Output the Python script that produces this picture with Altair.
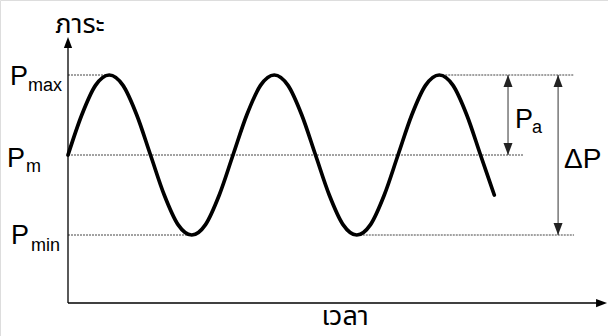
import altair as alt
import pandas as pd

# Load curve: time in 1/12-period steps,
# load relative to P_m in units of the amplitude P_a.
time = list(range(32))
load = [0, 0.5, 0.87, 1, 0.87, 0.5, 0, -0.5, -0.87, -1, -0.87, -0.5,
        0, 0.5, 0.87, 1, 0.87, 0.5, 0, -0.5, -0.87, -1, -0.87, -0.5,
        0, 0.5, 0.87, 1, 0.87, 0.5, 0, -0.5]

# Reference levels
P_max, P_m, P_min = 1, 0, -1

# Dotted level segments (start time, end time, level)
seg_start = [0, 27, 0, 0, 21]
seg_end = [3, 36.8, 33.1, 9, 36.8]
seg_level = [P_max, P_max, P_m, P_min, P_min]

# Axes (drawn as arrows)
x_axis_level = -1.85
y_axis_top = 1.475
x_axis_end = 39.2

# Dimension arrows: P_a and delta P
arrow_t = [32.0, 35.64]
arrow_from = [P_max, P_max]
arrow_to = [P_m, P_min]

# Text labels (text, time, load, size)
lab_text = ["P", "max", "P", "m", "P", "min", "P", "a", "\u0394P"]
lab_t = [-4.22, -2.91, -4.44, -3.06, -4.15, -2.69, 32.51, 33.75, 36.07]
lab_y = [0.875, 0.80, -0.15, -0.2125, -1.1125, -1.2, 0.3375, 0.275, -0.1625]
lab_size = [27, 18, 27, 18, 27, 18, 27, 18, 28]

y_title = "ภาระ"
x_title = "เวลา"

xs = alt.Scale(domain=[-4.945, 39.27], nice=False, zero=False)
ys = alt.Scale(domain=[-2.2625, 1.9375], nice=False, zero=False)

curve = pd.DataFrame({"t": time, "p": load})
segs = pd.DataFrame({"t1": seg_start, "t2": seg_end, "p": seg_level})
arrows = pd.DataFrame({"t": arrow_t, "p1": arrow_from, "p2": arrow_to})
labels = pd.DataFrame({"text": lab_text, "t": lab_t, "p": lab_y, "size": lab_size})

X = lambda f: alt.X(f, type="quantitative", scale=xs, axis=None)
Y = lambda f: alt.Y(f, type="quantitative", scale=ys, axis=None)

dotted = alt.Chart(segs).mark_rule(
    color="#444444", strokeWidth=1, strokeDash=[2, 1]
).encode(x=X("t1"), x2="t2", y=Y("p"))

axes_df = pd.DataFrame({"t1": [0, 0], "t2": [0, x_axis_end - 0.3],
                        "p1": [x_axis_level, x_axis_level],
                        "p2": [y_axis_top - 0.05, x_axis_level]})
axes = alt.Chart(axes_df).mark_rule(color="black", strokeWidth=1.3).encode(
    x=X("t1"), x2="t2", y=Y("p1"), y2="p2")

up_path = "M0,0L-0.75,2L0.75,2Z"
down_path = "M0,0L-0.75,-2L0.75,-2Z"
right_path = "M0,0L-2,-0.75L-2,0.75Z"

ax_up = alt.Chart(pd.DataFrame({"t": [0], "p": [y_axis_top]})).mark_point(
    shape=up_path, filled=True, color="black", size=121, opacity=1
).encode(x=X("t"), y=Y("p"))
ax_right = alt.Chart(pd.DataFrame({"t": [x_axis_end], "p": [x_axis_level]})).mark_point(
    shape=right_path, filled=True, color="black", size=121, opacity=1
).encode(x=X("t"), y=Y("p"))

dim_lines = alt.Chart(arrows).mark_rule(color="#333333", strokeWidth=1).encode(
    x=X("t"), y=Y("p1"), y2="p2")
dim_up = alt.Chart(arrows).mark_point(
    shape=up_path, filled=True, color="#222222", size=144, opacity=1
).encode(x=X("t"), y=Y("p1"))
dim_down = alt.Chart(arrows).mark_point(
    shape=down_path, filled=True, color="#222222", size=144, opacity=1
).encode(x=X("t"), y=Y("p2"))

wave = alt.Chart(curve).mark_line(
    color="black", strokeWidth=3.7, interpolate="monotone", strokeCap="round"
).encode(x=X("t"), y=Y("p"))

text = alt.Chart(labels).mark_text(
    align="left", baseline="alphabetic", font="Liberation Sans", color="black"
).encode(x=X("t"), y=Y("p"), text="text:N",
         size=alt.Size("size:Q", scale=None, legend=None))

titles = alt.Chart(pd.DataFrame({"text": [y_title, x_title], "t": [0.87, 20.15],
                                 "p": [1.525, -2.125]})).mark_text(
    align="center", baseline="alphabetic", fontSize=27,
    font="Noto Sans Thai, Noto Sans, sans-serif", color="black"
).encode(x=X("t"), y=Y("p"), text="text:N")

chart = alt.layer(dotted, axes, ax_up, ax_right, dim_lines, dim_up, dim_down,
                  wave, text, titles).properties(
    width=608, height=336, padding=0, autosize=alt.AutoSizeParams(type="none")
).configure_view(stroke=None).configure(background="white")

chart.save("out.html", embed_options={"renderer": "svg", "actions": False})
